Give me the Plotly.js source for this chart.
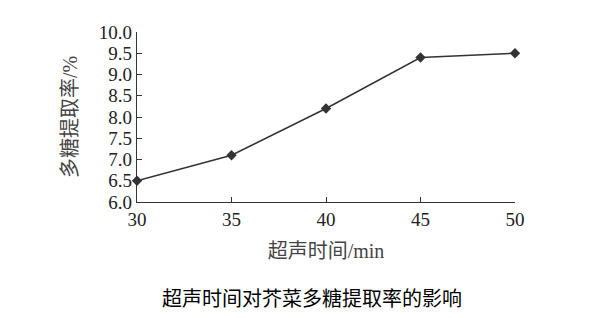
<!DOCTYPE html>
<html>
<head>
<meta charset="utf-8">
<script src="https://cdn.plot.ly/plotly-3.0.1.min.js"></script>
<style>html,body{margin:0;padding:0;background:#fff;}#chart{width:604px;height:318px;}</style>
</head>
<body>
<div id="chart"></div>
<script>
const times = [30, 35, 40, 45, 50];
const yields = [6.5, 7.1, 8.2, 9.4, 9.5];
const yTickVals = [6.0, 6.5, 7.0, 7.5, 8.0, 8.5, 9.0, 9.5, 10.0];
const yTickText = ["6.0", "6.5", "7.0", "7.5", "8.0", "8.5", "9.0", "9.5", "10.0"];
const xTickVals = [30, 35, 40, 45, 50];
const xTitle = "超声时间/min";
const yTitle = "多糖提取率/%";
const caption = "超声时间对芥菜多糖提取率的影响";

const serif = "Liberation Serif, Times New Roman, serif";
const cjk = "Liberation Serif, Noto Sans CJK SC, serif";

const trace = {
  x: times, y: yields, type: "scatter", mode: "lines+markers",
  line: {color: "#333333", width: 1.5},
  marker: {symbol: "diamond", size: 8, color: "#333333"},
  cliponaxis: false
};

const layout = {
  width: 604, height: 318,
  margin: {l: 137, r: 89, t: 32, b: 116},
  paper_bgcolor: "#fff", plot_bgcolor: "#fff",
  showlegend: false,
  xaxis: {
    range: [30, 50], tickvals: xTickVals, ticks: "inside", ticklen: 5, tickwidth: 1,
    tickcolor: "#333", showline: true, linecolor: "#333", linewidth: 1.2,
    showgrid: false, zeroline: false,
    tickfont: {family: serif, size: 19, color: "#222"},
    title: {text: xTitle, font: {family: cjk, size: 20, color: "#444"}, standoff: 15}
  },
  yaxis: {
    range: [6, 10], tickvals: yTickVals, ticktext: yTickText, ticks: "inside", ticklen: 5, tickwidth: 1,
    tickcolor: "#333", showline: true, linecolor: "#333", linewidth: 1.2,
    showgrid: false, zeroline: false,
    tickfont: {family: serif, size: 19, color: "#222"},
    title: {text: yTitle, font: {family: cjk, size: 20, color: "#444"}, standoff: 15}
  },
  annotations: [{
    text: caption, xref: "paper", yref: "paper", x: 0.463, y: -0.56,
    xanchor: "center", yanchor: "middle", showarrow: false,
    font: {family: "Noto Sans CJK SC, sans-serif", size: 20, color: "#000"}
  }]
};

Plotly.newPlot("chart", [trace], layout, {displayModeBar: false, staticPlot: true});
</script>
</body>
</html>
